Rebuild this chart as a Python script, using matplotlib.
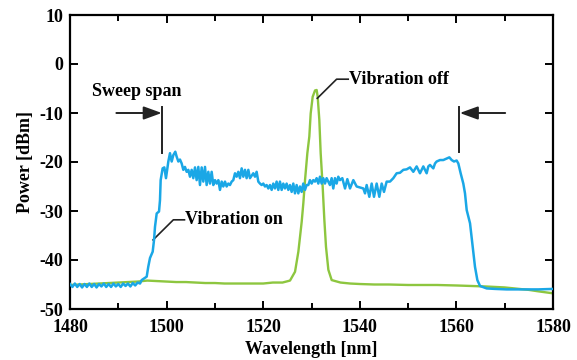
import matplotlib
matplotlib.use("Agg")
import matplotlib.pyplot as plt

# ---- data ----
# "Vibration on" (swept source), blue
wl_on = [1480.0, 1480.5, 1481.0, 1481.5, 1482.0, 1482.5, 1483.0, 1483.5, 1484.0, 1484.5,
         1485.0, 1485.5, 1486.0, 1486.5, 1487.0, 1487.5, 1488.0, 1488.5, 1489.0, 1489.5,
         1490.0, 1490.5, 1491.0, 1491.5, 1492.0, 1492.5, 1493.0, 1493.5, 1494.0, 1494.5,
         1494.84, 1495.88, 1496.2, 1496.56, 1497.12, 1497.4, 1497.6, 1497.95, 1498.43,
         1498.63, 1498.77, 1499.18, 1499.53, 1499.87, 1500.36, 1500.70, 1501.05, 1501.39,
         1501.8, 1502.08, 1502.43, 1502.77, 1503.12, 1503.46, 1503.8, 1504.15, 1504.5,
         1504.84, 1505.19, 1505.53, 1505.88, 1506.22, 1506.57, 1506.91, 1507.26, 1507.6,
         1507.95, 1508.29, 1508.64, 1508.98, 1509.33, 1509.67, 1510.02, 1510.36, 1510.71,
         1511.05, 1511.4, 1511.74, 1512.09, 1512.43, 1512.78, 1513.12, 1513.47, 1513.81,
         1514.16, 1514.5, 1514.85, 1515.19, 1515.54, 1515.88, 1516.23, 1516.57, 1516.92,
         1517.26, 1517.95, 1518.3, 1518.64, 1518.99, 1519.33, 1519.68, 1520.02, 1520.37,
         1520.71, 1521.06, 1521.4, 1521.75, 1522.09, 1522.44, 1522.78, 1523.13, 1523.47,
         1523.82, 1524.16, 1524.51, 1524.85, 1525.2, 1525.54, 1525.89, 1526.23, 1526.58,
         1526.92, 1527.27, 1527.61, 1527.96, 1528.3, 1528.65, 1528.99, 1529.34, 1529.68,
         1530.03, 1530.37, 1530.72, 1531.06, 1531.41, 1531.75, 1532.1, 1532.44, 1532.79,
         1533.13, 1533.48, 1533.82, 1534.17, 1534.51, 1534.86, 1535.2, 1535.55, 1535.89,
         1536.38, 1536.94, 1537.42, 1537.97, 1538.66, 1539.35, 1540.04, 1540.73, 1541.08,
         1541.42, 1541.97, 1542.46, 1542.94, 1543.49, 1544.04, 1544.53, 1545.01, 1545.56,
         1546.25, 1546.94, 1547.63, 1548.32, 1549.01, 1549.7, 1550.39, 1551.08, 1551.77,
         1552.46, 1553.15, 1553.84, 1554.19, 1554.53, 1555.22, 1555.57, 1555.91, 1556.6,
         1557.29, 1557.98, 1558.54, 1559.02, 1559.5, 1560.05, 1560.4, 1560.88, 1561.43,
         1561.78, 1562.13, 1562.82, 1563.37, 1563.85, 1564.34, 1564.89, 1566.27, 1568.0,
         1570.41, 1573.86, 1577.0, 1580.0]
p_on = [-44.9, -45.5, -44.8, -45.5, -44.9, -45.6, -44.9, -45.5, -44.8, -45.5,
        -44.9, -45.6, -44.9, -45.4, -44.8, -45.5, -44.9, -45.5, -44.8, -45.4,
        -44.9, -45.5, -44.8, -45.3, -44.8, -45.4, -44.7, -45.2, -44.6, -44.8,
        -44.1, -43.4, -41.4, -39.6, -38.3, -35.9, -33.2, -30.5, -30.1,
        -27.8, -23.7, -21.3, -21.1, -23.3, -19.9, -18.2, -19.9, -18.6,
        -17.9, -18.9, -19.9, -19.5, -20.3, -21.6, -21.0, -22.0, -21.6,
        -23.0, -21.6, -23.3, -21.1, -23.7, -21.0, -24.7, -21.1, -24.0,
        -21.0, -24.7, -22.0, -24.4, -22.0, -24.7, -23.7, -24.4, -23.7,
        -25.7, -24.0, -25.0, -24.0, -25.0, -24.4, -24.7, -24.0, -23.7,
        -22.3, -23.0, -22.0, -23.3, -21.3, -23.0, -21.6, -23.3, -21.6,
        -23.3, -22.3, -23.0, -22.0, -24.0, -24.4, -24.7, -24.4, -25.0,
        -24.7, -25.4, -24.7, -25.7, -24.4, -25.4, -24.0, -25.7, -24.0,
        -25.7, -24.4, -25.4, -24.4, -25.7, -24.7, -26.1, -24.4, -26.4,
        -24.7, -26.4, -25.0, -26.1, -24.4, -25.7, -24.7, -24.7, -23.7,
        -24.4, -23.7, -24.0, -23.3, -24.4, -23.0, -24.4, -23.3, -24.4,
        -23.3, -24.0, -24.7, -23.3, -25.4, -23.3, -24.4, -23.0, -23.7,
        -23.3, -25.4, -23.5, -25.4, -23.7, -25.0, -25.2, -25.4, -26.4,
        -24.7, -27.1, -24.4, -27.1, -24.4, -27.1, -24.4, -26.1, -24.0,
        -24.0, -23.3, -22.3, -22.2, -21.6, -21.5, -21.1, -22.0, -20.9,
        -22.3, -20.9, -22.3, -20.9, -20.6, -21.3, -20.3, -19.9, -19.6,
        -19.6, -19.3, -19.05, -19.6, -19.9, -19.7, -20.3, -22.3, -24.4,
        -26.4, -29.8, -32.5, -37.3, -41.4, -44.1, -45.3, -45.8, -45.9,
        -46.0, -46.0, -46.0, -45.9]

# "Vibration off" (static), green
wl_off = [1480, 1482, 1484, 1486, 1488, 1490, 1492, 1494, 1496, 1498,
          1500, 1502, 1504, 1506, 1508, 1510, 1512, 1514, 1516, 1518,
          1520, 1522, 1524, 1525.55, 1526.59, 1527.28, 1527.97, 1528.31, 1528.66,
          1529.14, 1529.55, 1529.83, 1530.24, 1530.73, 1531.07, 1531.28, 1531.62,
          1531.9, 1532.31, 1532.66, 1533.0, 1533.49, 1534.18, 1536, 1538, 1540,
          1543, 1546, 1550, 1553, 1556, 1560, 1563, 1566, 1570, 1572, 1575,
          1577, 1580]
p_off = [-45.1, -45.0, -44.9, -44.8, -44.7, -44.6, -44.5, -44.4, -44.2, -44.3,
         -44.4, -44.5, -44.5, -44.6, -44.7, -44.7, -44.8, -44.8, -44.8, -44.8,
         -44.8, -44.6, -44.6, -44.2, -42.4, -38.3, -32.2, -28.4, -23.7,
         -18.2, -14.8, -10.1, -6.7, -5.4, -5.3, -6.7, -11.4,
         -18.2, -25.0, -31.8, -37.3, -42.0, -44.1, -44.6, -44.8, -44.9,
         -45.0, -45.0, -45.1, -45.1, -45.1, -45.2, -45.3, -45.4, -45.6, -45.8, -46.1,
         -46.4, -46.8]

x_ticks = [1480, 1500, 1520, 1540, 1560, 1580]
y_ticks = [-50, -40, -30, -20, -10, 0, 10]

BLUE = "#1aa7e6"
GREEN = "#8dc63f"
INK = "#222222"

plt.rcParams["font.family"] = "Liberation Serif"
plt.rcParams["font.weight"] = "bold"
plt.rcParams["axes.unicode_minus"] = False

fig = plt.figure(figsize=(5.77, 3.6), dpi=100)
ax = fig.add_axes([70/577, 1 - 309/360, (553 - 70)/577, (309 - 15)/360])

ax.plot(wl_off, p_off, color=GREEN, lw=1.7, zorder=2)
ax.plot(wl_on, p_on, color=BLUE, lw=1.8, zorder=3)

ax.set_xlim(1480, 1580)
ax.set_ylim(-50, 10)
ax.set_xticks(x_ticks)
ax.set_xticks(range(1490, 1580, 20), minor=True)
ax.set_yticks(y_ticks)
ax.tick_params(which="both", direction="in", top=True, right=True, width=1.4,
               labelsize=13)
ax.tick_params(axis="x", pad=7)
ax.tick_params(axis="y", pad=5)
ax.tick_params(which="major", length=6)
ax.tick_params(which="minor", length=4)
for s in ax.spines.values():
    s.set_linewidth(1.6)

ax.set_xlabel("Wavelength [nm]", fontsize=13, fontweight="bold", labelpad=4)
ax.set_ylabel("Power [dBm]", fontsize=13, fontweight="bold", labelpad=4)

# sweep span markers
ax.plot([1499.1, 1499.1], [-8.7, -18.1], color=INK, lw=1.4)
ax.plot([1560.6, 1560.6], [-8.7, -18.0], color=INK, lw=1.4)
ax.annotate("", xy=(1499.0, -10.0), xytext=(1489.6, -10.0),
            arrowprops=dict(arrowstyle="-|>,head_length=1.1,head_width=0.4",
                            color=INK, lw=1.4, shrinkA=0, shrinkB=0))
ax.annotate("", xy=(1560.7, -10.0), xytext=(1570.1, -10.0),
            arrowprops=dict(arrowstyle="-|>,head_length=1.1,head_width=0.4",
                            color=INK, lw=1.4, shrinkA=0, shrinkB=0))
ax.text(1484.5, -5.7, "Sweep span", fontsize=13, ha="left", va="center")

# leader lines + labels
ax.plot([1531.2, 1535.2, 1537.6], [-7.0, -3.1, -3.1], color=INK, lw=1.2)
ax.text(1537.8, -3.1, "Vibration off", fontsize=13, ha="left", va="center")
ax.plot([1497.2, 1501.4, 1503.7], [-35.9, -31.8, -31.8], color=INK, lw=1.2)
ax.text(1503.9, -31.8, "Vibration on", fontsize=13, ha="left", va="center")

fig.savefig("out.png", dpi=100)
